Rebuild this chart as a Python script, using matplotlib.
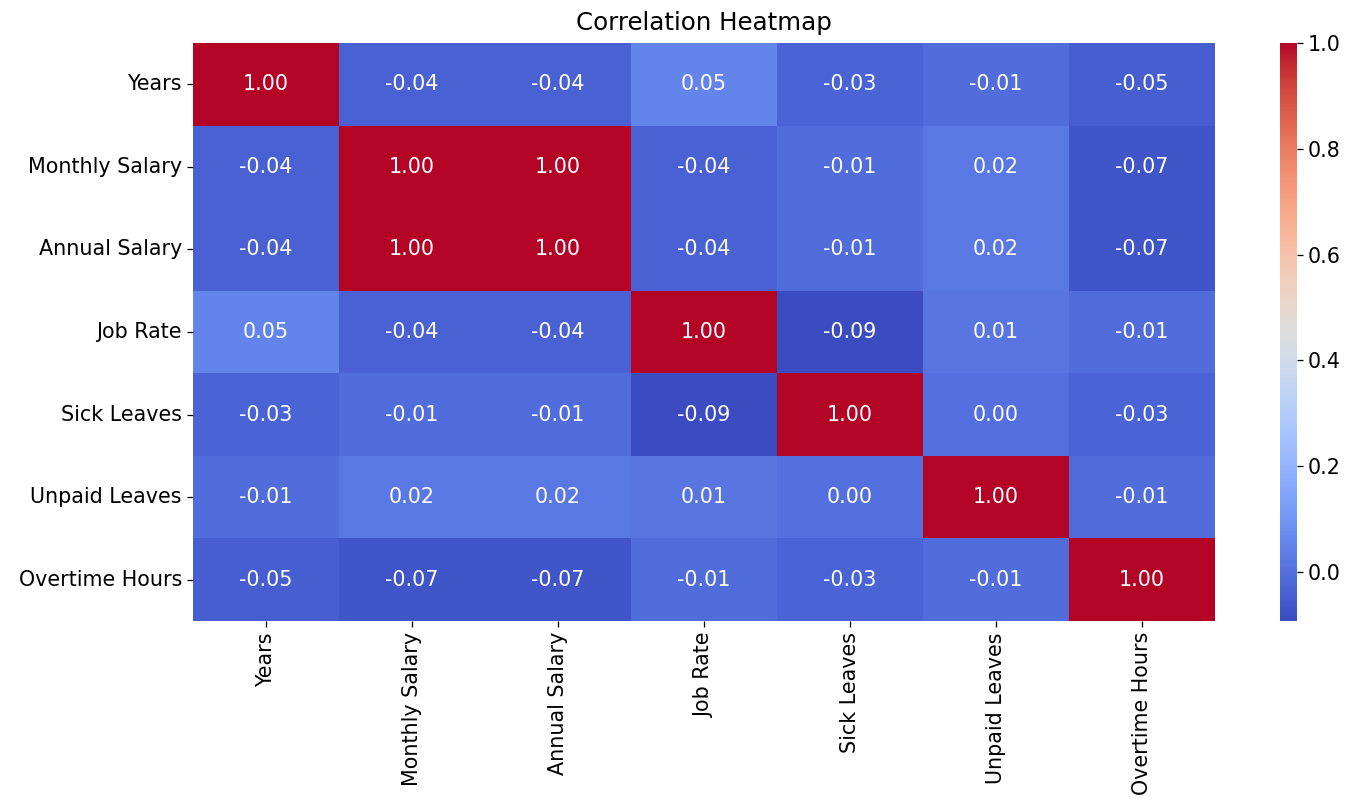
import matplotlib
matplotlib.use("Agg")
import matplotlib.pyplot as plt
import seaborn as sns
import numpy as np
import pandas as pd

labels = ["Years", "Monthly Salary", "Annual Salary", "Job Rate",
          "Sick Leaves", "Unpaid Leaves", "Overtime Hours"]
row_years = [1.00, -0.04, -0.04, 0.05, -0.03, -0.01, -0.05]
row_monthly = [-0.04, 1.00, 1.00, -0.04, -0.01, 0.02, -0.07]
row_annual = [-0.04, 1.00, 1.00, -0.04, -0.01, 0.02, -0.07]
row_jobrate = [0.05, -0.04, -0.04, 1.00, -0.09, 0.01, -0.01]
row_sick = [-0.03, -0.01, -0.01, -0.09, 1.00, 0.00, -0.03]
row_unpaid = [-0.01, 0.02, 0.02, 0.01, 0.00, 1.00, -0.01]
row_overtime = [-0.05, -0.07, -0.07, -0.01, -0.03, -0.01, 1.00]

corr = pd.DataFrame([row_years, row_monthly, row_annual, row_jobrate,
                     row_sick, row_unpaid, row_overtime],
                    index=labels, columns=labels)

dpi = 114
fig = plt.figure(figsize=(1367 / dpi, 806 / dpi), dpi=dpi)
ax = fig.add_axes([193 / 1367, 1 - 621 / 806, (1215 - 193) / 1367, (621 - 43) / 806])
cax = fig.add_axes([1280 / 1367, 1 - 621 / 806, 17 / 1367, (621 - 43) / 806])

sns.heatmap(corr, annot=True, fmt=".2f", cmap="coolwarm", ax=ax, cbar_ax=cax,
            vmin=-0.093, vmax=1.0, annot_kws={"fontsize": 13})
ax.set_title("Correlation Heatmap", fontsize=15.5, pad=8)
ax.tick_params(labelsize=13)
ax.set_xticklabels(labels, rotation=90)
ax.set_yticklabels(labels, rotation=0)
cax.tick_params(labelsize=13)
fig.savefig("out.png", dpi=dpi)
